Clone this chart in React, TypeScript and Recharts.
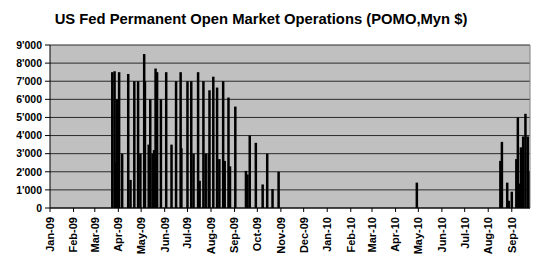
import React from 'react';
import { BarChart, Bar, XAxis, YAxis, CartesianGrid, ReferenceLine } from 'recharts';

const operationDates = [
  '2009-03-24', '2009-03-27', '2009-03-29', '2009-03-30', '2009-04-02', '2009-04-06',
  '2009-04-14', '2009-04-17', '2009-04-22', '2009-04-27', '2009-04-30', '2009-05-05',
  '2009-05-06', '2009-05-11', '2009-05-13', '2009-05-16', '2009-05-18', '2009-05-20',
  '2009-05-22', '2009-05-27', '2009-06-03', '2009-06-10', '2009-06-16', '2009-06-22',
  '2009-06-23', '2009-07-01', '2009-07-06', '2009-07-09', '2009-07-15', '2009-07-17',
  '2009-07-22', '2009-07-25', '2009-07-29', '2009-07-30', '2009-08-04', '2009-08-09',
  '2009-08-12', '2009-08-17', '2009-08-19', '2009-08-24', '2009-08-26', '2009-09-02',
  '2009-09-16', '2009-09-18', '2009-09-21', '2009-09-29', '2009-10-08', '2009-10-14',
  '2009-10-21', '2009-10-29', '2010-04-29', '2010-08-17', '2010-08-19', '2010-08-26',
  '2010-08-28', '2010-09-01', '2010-09-07', '2010-09-09', '2010-09-11', '2010-09-13',
  '2010-09-16', '2010-09-19', '2010-09-22', '2010-09-24',
];

const operationValues = [
  7500, 7550, 2500, 6000, 7500, 3000,
  7400, 1550, 7000, 7000, 3000, 8500,
  7000, 3500, 6000, 3000, 3200, 7700,
  7500, 6000, 7500, 3500, 7000, 7500,
  3300, 7000, 7000, 3000, 7500, 1500,
  7000, 3000, 3000, 6500, 7250, 6650,
  2700, 7000, 2600, 6100, 2300, 5600,
  2050, 1850, 4000, 3600, 1300, 3000,
  1050, 2000, 1400, 2600, 3650, 1400,
  400, 900, 2700, 5000, 1350, 3350,
  3950, 5200, 3950, 2050,
];

const monthTickDates = [
  '2009-01-01', '2009-02-01', '2009-03-01', '2009-04-01', '2009-05-01', '2009-06-01',
  '2009-07-01', '2009-08-01', '2009-09-01', '2009-10-01', '2009-11-01', '2009-12-01',
  '2010-01-01', '2010-02-01', '2010-03-01', '2010-04-01', '2010-05-01', '2010-06-01',
  '2010-07-01', '2010-08-01', '2010-09-01',
];

const monthTickLabels = [
  'Jan-09', 'Feb-09', 'Mar-09', 'Apr-09', 'May-09', 'Jun-09',
  'Jul-09', 'Aug-09', 'Sep-09', 'Oct-09', 'Nov-09', 'Dec-09',
  'Jan-10', 'Feb-10', 'Mar-10', 'Apr-10', 'May-10', 'Jun-10',
  'Jul-10', 'Aug-10', 'Sep-10',
];

const yTicks = [0, 1000, 2000, 3000, 4000, 5000, 6000, 7000, 8000, 9000];

const axisStart = '2009-01-01';
const axisEnd = '2010-09-25';

const toTime = (s: string) => Date.parse(s + 'T00:00:00Z');

const data = operationDates.map((d, i) => ({ t: toTime(d), v: operationValues[i] }));
const monthTicks = monthTickDates.map(toTime);
const domainStart = toTime(axisStart);
const domainEnd = toTime(axisEnd);

const FONT = '"Liberation Sans", Arial, Helvetica, sans-serif';

const formatY = (v: number) => {
  if (v === 0) return '0';
  const th = Math.floor(v / 1000);
  const rest = String(v % 1000).padStart(3, '0');
  return `${th}'${rest}`;
};

const MonthTick = (props: any) => {
  const { x, y, payload } = props;
  const idx = monthTicks.indexOf(payload.value);
  const label = idx >= 0 ? monthTickLabels[idx] : '';
  return (
    <text
      x={x}
      y={y}
      transform={`rotate(-90 ${x} ${y})`}
      textAnchor="end"
      dy="0.35em"
      fontFamily={FONT}
      fontSize={11}
      fontWeight="bold"
      fill="#000"
    >
      {label}
    </text>
  );
};

const ThinBar = (props: any) => {
  const { x, y, width, height } = props;
  if (!height || height <= 0) return null;
  const cx = x + width / 2;
  return <rect x={cx - 1.25} y={y} width={2.5} height={height} fill="#000" />;
};

export default function App() {
  return (
    <div style={{ position: 'absolute', left: 0, top: 0, width: 551, height: 270, background: '#fff' }}>
      <div
        style={{
          position: 'absolute',
          left: 0,
          top: 10,
          width: 522,
          textAlign: 'center',
          fontFamily: FONT,
          fontWeight: 'bold',
          fontSize: 14.8,
          lineHeight: '18px',
          color: '#000',
          whiteSpace: 'nowrap',
        }}
      >
        US Fed Permanent Open Market Operations (POMO,Myn $)
      </div>
      <BarChart
        width={551}
        height={270}
        data={data}
        margin={{ top: 45, right: 21, bottom: 12, left: 0 }}
      >
        <CartesianGrid
          vertical={false}
          stroke="#2a2a2a"
          fill="#C0C0C0"
          fillOpacity={1}
        />
        <XAxis
          dataKey="t"
          type="number"
          domain={[domainStart, domainEnd]}
          ticks={monthTicks}
          interval={0}
          tick={<MonthTick />}
          tickSize={4}
          tickMargin={5}
          height={50}
          axisLine={{ stroke: '#000' }}
          tickLine={{ stroke: '#000' }}
          allowDataOverflow
        />
        <YAxis
          type="number"
          domain={[0, 9000]}
          ticks={yTicks}
          interval={0}
          tickFormatter={formatY}
          width={50}
          tickSize={5}
          tickMargin={3}
          tick={{ fontFamily: FONT, fontSize: 10.5, fontWeight: 'bold', fill: '#000' }}
          axisLine={{ stroke: '#000' }}
          tickLine={{ stroke: '#000' }}
        />
        <ReferenceLine x={domainEnd} stroke="#808080" />
        <Bar dataKey="v" fill="#000" isAnimationActive={false} shape={<ThinBar />} />
      </BarChart>
    </div>
  );
}
